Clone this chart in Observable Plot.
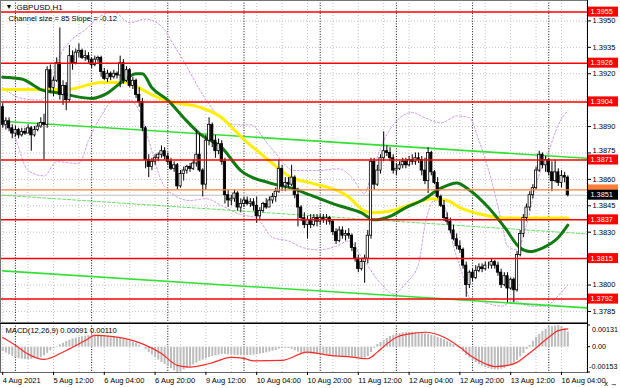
<!DOCTYPE html>
<html><head><meta charset="utf-8">
<script src="https://cdn.jsdelivr.net/npm/d3@7"></script>
<script src="https://cdn.jsdelivr.net/npm/@observablehq/plot@0.6"></script>
<style>
html,body{margin:0;padding:0;background:#fff;}
#chart svg{display:block;}
</style></head><body><div id="chart"></div>
<script>
// ---------- DATA ----------
const open0 = 1.3901;
const closes = [1.3891,1.3893,1.3889,1.3886,1.3888,1.3885,1.3887,1.3886,1.3889,1.3885,1.3888,1.3890,1.3892,1.3891,1.3922,1.3912,1.3916,1.3926,1.3908,1.3913,
1.3905,1.3930,1.3926,1.3932,1.3933,1.3929,1.3930,1.3928,1.3925,1.3928,1.3929,1.3921,1.3917,1.3920,1.3918,1.3920,1.3919,1.3926,1.3916,1.3922,
1.3913,1.3916,1.3908,1.3904,1.3889,1.3871,1.3867,1.3870,1.3872,1.3874,1.3876,1.3873,1.3870,1.3866,1.3868,1.3856,1.3863,1.3865,1.3867,1.3866,
1.3869,1.3874,1.3865,1.3857,1.3882,1.3891,1.3882,1.3876,1.3880,1.3870,1.3851,1.3848,1.3849,1.3852,1.3844,1.3846,1.3848,1.3846,1.3847,1.3845,
1.3839,1.3842,1.3846,1.3844,1.3848,1.3850,1.3853,1.3866,1.3856,1.3858,1.3857,1.3861,1.3851,1.3844,1.3838,1.3834,1.3837,1.3834,1.3838,1.3836,
1.3838,1.3837,1.3838,1.3836,1.3830,1.3825,1.3831,1.3828,1.3829,1.3828,1.3821,1.3815,1.3809,1.3813,1.3815,1.3828,1.3870,1.3857,1.3865,1.3872,
1.3876,1.3875,1.3872,1.3865,1.3866,1.3868,1.3870,1.3868,1.3871,1.3870,1.3872,1.3871,1.3865,1.3859,1.3875,1.3864,1.3858,1.3850,1.3845,1.3838,
1.3836,1.3831,1.3826,1.3822,1.3820,1.3811,1.3800,1.3807,1.3804,1.3808,1.3810,1.3809,1.3811,1.3811,1.3813,1.3811,1.3807,1.3800,1.3805,1.3798,
1.3803,1.3797,1.3817,1.3829,1.3838,1.3844,1.3851,1.3855,1.3865,1.3874,1.3868,1.3871,1.3864,1.3859,1.3864,1.3858,1.3862,1.3861,1.3851];
const highs = [1.3903,1.3895,1.3895,1.3891,1.3890,1.3889,1.3889,1.3889,1.3891,1.3890,1.3890,1.3892,1.3895,1.3897,1.3924,1.3925,1.3918,1.3929,1.3946,1.3916,
1.3915,1.3936,1.3933,1.3934,1.3937,1.3934,1.3933,1.3932,1.3929,1.3930,1.3930,1.3930,1.3923,1.3922,1.3921,1.3922,1.3921,1.3930,1.3928,1.3924,
1.3923,1.3918,1.3917,1.3912,1.3906,1.3890,1.3874,1.3872,1.3874,1.3875,1.3879,1.3878,1.3875,1.3872,1.3870,1.3869,1.3865,1.3867,1.3868,1.3869,
1.3871,1.3888,1.3886,1.3866,1.3885,1.3895,1.3892,1.3885,1.3883,1.3882,1.3872,1.3854,1.3851,1.3854,1.3853,1.3849,1.3850,1.3850,1.3849,1.3849,
1.3850,1.3844,1.3847,1.3849,1.3850,1.3852,1.3855,1.3871,1.3868,1.3861,1.3861,1.3868,1.3862,1.3855,1.3845,1.3841,1.3839,1.3840,1.3840,1.3840,
1.3840,1.3840,1.3840,1.3839,1.3837,1.3832,1.3833,1.3833,1.3831,1.3832,1.3829,1.3824,1.3817,1.3815,1.3817,1.3831,1.3872,1.3872,1.3868,1.3874,
1.3887,1.3879,1.3878,1.3874,1.3869,1.3870,1.3872,1.3872,1.3873,1.3874,1.3875,1.3875,1.3873,1.3872,1.3878,1.3876,1.3865,1.3861,1.3851,1.3848,
1.3841,1.3838,1.3834,1.3829,1.3825,1.3821,1.3813,1.3808,1.3809,1.3811,1.3812,1.3812,1.3813,1.3813,1.3815,1.3814,1.3813,1.3809,1.3807,1.3807,
1.3804,1.3804,1.3819,1.3831,1.3840,1.3846,1.3853,1.3857,1.3867,1.3876,1.3875,1.3873,1.3872,1.3870,1.3871,1.3866,1.3865,1.3864,1.3862];
const lows = [1.3889,1.3888,1.3887,1.3883,1.3884,1.3883,1.3884,1.3885,1.3886,1.3876,1.3884,1.3887,1.3889,1.3871,1.3889,1.3909,1.3907,1.3915,1.3905,1.3902,
1.3899,1.3904,1.3922,1.3925,1.3929,1.3928,1.3927,1.3926,1.3923,1.3924,1.3926,1.3918,1.3916,1.3915,1.3916,1.3917,1.3917,1.3912,1.3914,1.3915,
1.3912,1.3911,1.3906,1.3901,1.3887,1.3866,1.3861,1.3865,1.3868,1.3870,1.3872,1.3871,1.3868,1.3865,1.3864,1.3854,1.3855,1.3859,1.3863,1.3864,
1.3865,1.3867,1.3864,1.3850,1.3854,1.3879,1.3878,1.3872,1.3874,1.3868,1.3846,1.3844,1.3845,1.3847,1.3842,1.3841,1.3844,1.3845,1.3844,1.3842,
1.3835,1.3837,1.3841,1.3843,1.3844,1.3846,1.3847,1.3852,1.3853,1.3853,1.3855,1.3856,1.3849,1.3833,1.3836,1.3832,1.3826,1.3832,1.3833,1.3833,
1.3834,1.3835,1.3834,1.3834,1.3828,1.3823,1.3824,1.3826,1.3825,1.3826,1.3819,1.3813,1.3807,1.3808,1.3801,1.3812,1.3826,1.3854,1.3856,1.3863,
1.3870,1.3873,1.3870,1.3863,1.3862,1.3865,1.3866,1.3866,1.3867,1.3868,1.3868,1.3869,1.3862,1.3857,1.3852,1.3862,1.3857,1.3849,1.3844,1.3836,
1.3834,1.3829,1.3825,1.3820,1.3818,1.3809,1.3793,1.3798,1.3802,1.3803,1.3807,1.3807,1.3808,1.3809,1.3809,1.3809,1.3805,1.3798,1.3799,1.3790,
1.3797,1.3790,1.3796,1.3816,1.3827,1.3836,1.3842,1.3849,1.3854,1.3864,1.3866,1.3864,1.3862,1.3853,1.3858,1.3856,1.3855,1.3858,1.3850];

const macdHist = [-0.00026,-0.00036,-0.00046,-0.00056,-0.00063,-0.00069,-0.00073,-0.00075,-0.00075,-0.00074,-0.00070,-0.00066,-0.00062,-0.00052,-0.00038,-0.00022,-0.00008,0.00004,0.00014,0.00024,
0.00034,0.00042,0.00050,0.00055,0.00059,0.00063,0.00066,0.00069,0.00071,0.00073,0.00074,0.00072,0.00070,0.00068,0.00065,0.00061,0.00056,0.00052,0.00047,0.00041,
0.00035,0.00028,0.00022,0.00012,0.00000,-0.00015,-0.00032,-0.00048,-0.00064,-0.00078,-0.00092,-0.00104,-0.00116,-0.00130,-0.00142,-0.00153,-0.00148,-0.00138,-0.00128,-0.00118,
-0.00108,-0.00097,-0.00086,-0.00078,-0.00070,-0.00062,-0.00056,-0.00052,-0.00048,-0.00045,-0.00044,-0.00046,-0.00048,-0.00049,-0.00050,-0.00051,-0.00050,-0.00050,-0.00050,-0.00048,
-0.00046,-0.00042,-0.00038,-0.00034,-0.00029,-0.00024,-0.00020,-0.00012,-0.00008,-0.00007,-0.00008,-0.00014,-0.00022,-0.00030,-0.00038,-0.00040,-0.00042,-0.00043,-0.00044,-0.00046,
-0.00047,-0.00048,-0.00050,-0.00051,-0.00053,-0.00055,-0.00056,-0.00058,-0.00059,-0.00060,-0.00062,-0.00065,-0.00067,-0.00068,-0.00066,-0.00056,-0.00032,-0.00008,0.00016,0.00028,
0.00040,0.00053,0.00065,0.00071,0.00077,0.00082,0.00086,0.00088,0.00089,0.00090,0.00089,0.00086,0.00083,0.00080,0.00077,0.00071,0.00065,0.00059,0.00053,0.00044,
0.00034,0.00025,0.00016,0.00005,-0.00008,-0.00029,-0.00050,-0.00065,-0.00080,-0.00093,-0.00105,-0.00114,-0.00123,-0.00129,-0.00135,-0.00137,-0.00138,-0.00134,-0.00129,-0.00120,
-0.00110,-0.00095,-0.00080,-0.00059,-0.00038,-0.00014,0.00010,0.00035,0.00059,0.00077,0.00095,0.00107,0.00119,0.00124,0.00128,0.00131,0.00125,0.00113,0.00091];

const signalIdx = [0,4,8,13,20,26,29,34,41,44,50,55,59,65,72,76,79,88,96,103,110,115,118,121,124,128,133,139,144,148,152,155,159,162,165,167,172,175,178];
const signalVal = [0.00059,0.00012,-0.00042,-0.00074,-0.00020,0.00040,0.00071,0.00065,0.00040,0.00020,-0.00038,-0.00110,-0.00120,-0.00100,-0.00062,-0.00068,-0.00083,-0.00080,-0.00030,-0.00050,-0.00060,-0.00070,-0.00030,0.00020,0.00060,0.00080,0.00090,0.00060,0.00000,-0.00060,-0.00100,-0.00117,-0.00110,-0.00092,-0.00050,-0.00020,0.00060,0.00100,0.00110];

const yellowIdx = [0,9,20,31,39,43,47,53,62,69,73,77,81,85,91,97,109,114,117,122,129,135,140,144,151,158,178];
const yellowVal = [1.3911,1.3911,1.3911,1.3915,1.3915,1.3912,1.3908,1.3904,1.3901,1.3895,1.3888,1.3881,1.3875,1.3869,1.3861,1.3858,1.3850,1.3842,1.3841,1.3842,1.3846,1.3849,1.3848,1.3844,1.3840,1.3838,1.3838];
const greenIdx = [0,6,12,18,28,33,38,42,44,47,52,57,62,69,75,84,91,97,106,113,117,122,127,132,138,143,147,153,158,163,166,170,175,178];
const greenVal = [1.3918,1.3917,1.3911,1.3909,1.3906,1.3909,1.3916,1.3920,1.3920,1.3912,1.3905,1.3895,1.3886,1.3878,1.3865,1.3858,1.3855,1.3851,1.3845,1.3841,1.3837,1.3839,1.3844,1.3848,1.3855,1.3858,1.3854,1.3844,1.3833,1.3821,1.3819,1.3821,1.3827,1.3834];

const upperIdx = [0,6,12,15,18,21,26,31,35,40,45,50,54,58,62,67,73,78,84,92,99,106,110,114,116,120,124,129,133,138,143,147,150,154,157,159,162,165,168,172,175,178];
const upperVal = [1.3912,1.3906,1.3905,1.3913,1.3930,1.3938,1.3945,1.3953,1.3955,1.3949,1.3951,1.3947,1.3936,1.3924,1.3911,1.3898,1.3891,1.3891,1.3879,1.3865,1.3865,1.3866,1.3861,1.3852,1.3862,1.3882,1.3893,1.3898,1.3895,1.3892,1.3896,1.3895,1.3882,1.3859,1.3837,1.3822,1.3820,1.3834,1.3857,1.3876,1.3891,1.3899];
const lowerIdx = [0,3,8,13,17,24,27,31,35,40,43,47,50,54,59,64,69,75,80,85,90,95,100,105,109,113,119,123,127,131,133,136,139,142,145,147,152,157,161,166,171,175,178];
const lowerVal = [1.3891,1.3887,1.3865,1.3862,1.3870,1.3869,1.3882,1.3896,1.3905,1.3905,1.3899,1.3876,1.3859,1.3851,1.3848,1.3849,1.3845,1.3840,1.3838,1.3827,1.3825,1.3821,1.3820,1.3822,1.3825,1.3816,1.3801,1.3795,1.3801,1.3812,1.3834,1.3848,1.3845,1.3822,1.3805,1.3793,1.3790,1.3788,1.3791,1.3788,1.3788,1.3794,1.3800];

const channelIdx = [0, 184];
const channelUpper = [1.3893, 1.3872];
const channelMid = [1.3851, 1.3829];
const channelLower = [1.3808, 1.3787];

const levels = [1.3955, 1.3926, 1.3904, 1.3871, 1.3837, 1.3815, 1.3792];
const orangeLevel = 1.3854;
const bid = 1.3851;
const gridPrices = [1.3950,1.3935,1.3920,1.3905,1.3890,1.3875,1.3860,1.3845,1.3830,1.3815,1.3800,1.3785];
const priceLabels = [1.3950,1.3935,1.3920,1.3890,1.3875,1.3860,1.3845,1.3830,1.3800,1.3785];
const labelBars = [0,16,32,48,64,80,96,112,128,144,160,176];
const labelText = ["4 Aug 2021","5 Aug 12:00","6 Aug 04:00","6 Aug 20:00","9 Aug 12:00","10 Aug 04:00","10 Aug 20:00","11 Aug 12:00","12 Aug 04:00","12 Aug 20:00","13 Aug 12:00","16 Aug 04:00"];
const dayBars = [4,28,52,76,100,124,148,172];
const gridBars = d3.range(0, 185, 8);
const symbolTitle = "GBPUSD,H1";
const channelText = "Channel size = 85 Slope = -0.12";
const macdText = "MACD(12,26,9) 0.00091 0.00110";
const macdTicks = [0.00131, 0, -0.00153];
const macdTickText = ["0.00131", "0.00", "-0.00153"];

// ---------- BUILD ----------
const bars = closes.map((c, i) => ({i, open: i ? closes[i - 1] : open0, close: c, high: highs[i], low: lows[i]}));
const pts = (idx, val) => idx.map((x, k) => ({x, y: val[k]}));
const FONT = "'Liberation Sans', Arial, sans-serif";
const baseStyle = {fontFamily: FONT, fontSize: "7.5px", background: "#fff", overflow: "visible", color: "#000"};
const X = {domain: [-0.7, 184.2], axis: null};
const gridGray = {stroke: "#c2c2c2", strokeDasharray: "1,2", strokeWidth: 1};
const gridDay = {stroke: "#111", strokeDasharray: "1,1.6", strokeWidth: 1};

const main = Plot.plot({
  width: 620, height: 322, marginLeft: 0, marginRight: 33, marginTop: 0, marginBottom: 0,
  x: X,
  y: {domain: [1.37787, 1.39616], axis: null},
  style: baseStyle,
  marks: [
    Plot.ruleY(gridPrices, gridGray),
    Plot.ruleX(gridBars, gridGray),
    Plot.ruleX(dayBars, gridDay),
    Plot.ruleY([bid], {stroke: "#bdbdbd", strokeWidth: 1}),
    Plot.line(pts(upperIdx, upperVal), {x: "x", y: "y", curve: "monotone-x", stroke: "#c99be6", strokeWidth: 1, strokeDasharray: "2,2"}),
    Plot.line(pts(lowerIdx, lowerVal), {x: "x", y: "y", curve: "monotone-x", stroke: "#c99be6", strokeWidth: 1, strokeDasharray: "2,2"}),
    Plot.line(pts(channelIdx, channelMid), {x: "x", y: "y", stroke: "#66e066", strokeWidth: 1, strokeDasharray: "3,2"}),
    Plot.line(pts(channelIdx, channelUpper), {x: "x", y: "y", stroke: "#33e033", strokeWidth: 1.6}),
    Plot.line(pts(channelIdx, channelLower), {x: "x", y: "y", stroke: "#33e033", strokeWidth: 1.6}),
    Plot.line(pts(yellowIdx, yellowVal), {x: "x", y: "y", curve: "monotone-x", stroke: "#ffee00", strokeWidth: 3}),
    Plot.line(pts(greenIdx, greenVal), {x: "x", y: "y", curve: "monotone-x", stroke: "#117a11", strokeWidth: 3}),
    Plot.ruleX(bars, {x: "i", y1: "low", y2: "high", stroke: "#000", strokeWidth: 1}),
    Plot.rect(bars, {x1: d => d.i - 0.36, x2: d => d.i + 0.36, y1: "open", y2: "close",
      fill: d => d.close >= d.open ? "#fff" : "#000", stroke: "#000", strokeWidth: 0.8}),
    Plot.ruleY(levels, {stroke: "#ff0000", strokeWidth: 1.5}),
    Plot.ruleY([orangeLevel], {stroke: "#ff7f3a", strokeWidth: 1.2}),
    Plot.frame({stroke: "#777"}),
    Plot.frame({anchor: "right", stroke: "#000"}),
    Plot.axisY(priceLabels, {anchor: "right", tickSize: 3, tickPadding: 2, tickFormat: d => d.toFixed(4), fontSize: 7.5, fill: "#000", stroke: "#000"}),
    Plot.text([symbolTitle], {frameAnchor: "top-left", dx: 16, dy: 6.5, lineAnchor: "middle", textAnchor: "start", fontSize: 8, fill: "#000"}),
    Plot.text(["\u25BC"], {frameAnchor: "top-left", dx: 5, dy: 6.5, lineAnchor: "middle", textAnchor: "start", fontSize: 7, fill: "#000"}),
    Plot.text([channelText], {frameAnchor: "top-left", dx: 8, dy: 18.5, lineAnchor: "middle", textAnchor: "start", fontSize: 7.6, fill: "#000"})
  ]
});

// price tags on the right axis, placed with the chart's own y scale
const sy = main.scale("y");
const msvg = d3.select(main);
// lift the 1.3875 label just clear of the tag right below it
msvg.selectAll("text").each(function() {
  if (this.textContent === "1.3875" && !this.querySelector("tspan")) {
    const t = d3.select(this);
    t.attr("transform", (t.attr("transform") || "") + " translate(0,-2)");
  }
});
function tag(v, fill, txt) {
  const y = sy.apply(v);
  msvg.append("rect").attr("x", 588).attr("y", y - 5).attr("width", 30).attr("height", 10).attr("fill", fill);
  if (txt) msvg.append("text").attr("x", 590.5).attr("y", y + 2.7).attr("fill", "#fff")
    .attr("text-anchor", "start").attr("font-family", FONT).attr("font-size", 7.3).text(txt);
}
levels.forEach(v => tag(v, "#ff0000", v.toFixed(4)));
tag(orangeLevel, "#ff7f3a", null);   // orange tag sits almost fully behind the bid tag
tag(bid, "#000", bid.toFixed(4));

const macd = Plot.plot({
  width: 620, height: 66, marginLeft: 0, marginRight: 33, marginTop: 1, marginBottom: 16,
  x: X,
  y: {domain: [-0.00153, 0.00143], axis: null},
  style: baseStyle,
  marks: [
    Plot.ruleX(gridBars, gridGray),
    Plot.ruleX(dayBars, gridDay),
    Plot.ruleX(macdHist, {x: (d, i) => i, y1: 0, y2: d => d, stroke: "#bcbcbc", strokeWidth: 2}),
    Plot.line(pts(signalIdx, signalVal), {x: "x", y: "y", curve: "monotone-x", stroke: "#ff2b2b", strokeWidth: 1.2}),
    Plot.frame({stroke: "#666"}),
    Plot.frame({anchor: "top", stroke: "#000"}),
    Plot.frame({anchor: "right", stroke: "#000"}),
    Plot.axisX(labelBars, {anchor: "bottom", tickSize: 3, tickPadding: 2, tickFormat: d => labelText[labelBars.indexOf(d)], textAnchor: "start", fontSize: 7.5, fill: "#000", stroke: "#000"}),
    Plot.text([macdText], {frameAnchor: "top-left", dx: 5, dy: 7, lineAnchor: "middle", textAnchor: "start", fontSize: 7.6, fill: "#000"})
  ]
});

// MACD price-scale labels, placed with the panel's own y scale
const my = macd.scale("y");
const gsvg = d3.select(macd);
const shift = [4, 0, -6];
const startX = [592, 592, 589];
macdTicks.forEach((v, k) => {
  const y = my.apply(v);
  gsvg.append("line").attr("x1", 587).attr("x2", 590).attr("y1", y).attr("y2", y).attr("stroke", "#000");
  gsvg.append("text").attr("x", startX[k]).attr("y", y + shift[k] + 2.7).attr("fill", "#000")
    .attr("text-anchor", "start").attr("font-family", FONT).attr("font-size", 7.2).text(macdTickText[k]);
});

const root = document.getElementById("chart");
root.appendChild(main);
root.appendChild(macd);
</script>
</body></html>
